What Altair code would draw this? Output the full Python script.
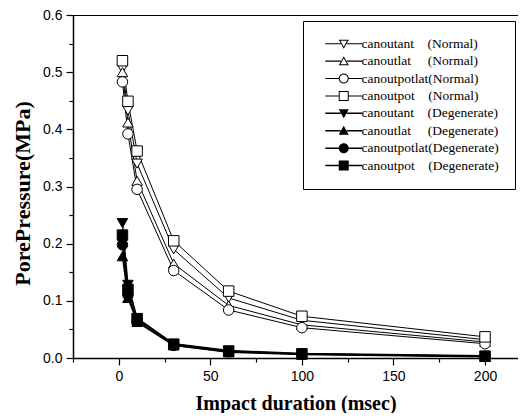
import altair as alt
import pandas as pd

durations = [2, 5, 10, 30, 60, 100, 200]

pad = "\u00a0\u00a0\u00a0\u00a0"
series_labels = [
    "canoutant\u00a0\u00a0\u00a0\u00a0(Normal)" + pad,
    "canoutlat\u00a0\u00a0\u00a0\u00a0\u00a0(Normal)" + pad,
    "canoutpotlat(Normal)" + pad,
    "canoutpot\u00a0\u00a0\u00a0\u00a0(Normal)" + pad,
    "canoutant\u00a0\u00a0\u00a0\u00a0(Degenerate)" + pad,
    "canoutlat\u00a0\u00a0\u00a0\u00a0\u00a0(Degenerate)" + pad,
    "canoutpotlat(Degenerate)" + pad,
    "canoutpot\u00a0\u00a0\u00a0\u00a0(Degenerate)" + pad,
]
series_kind = ["Normal"] * 4 + ["Degenerate"] * 4

normal_ant = [0.506, 0.433, 0.340, 0.190, 0.105, 0.066, 0.032]
normal_lat = [0.500, 0.412, 0.310, 0.165, 0.092, 0.058, 0.028]
normal_potlat = [0.483, 0.392, 0.295, 0.153, 0.084, 0.053, 0.025]
normal_pot = [0.520, 0.449, 0.362, 0.205, 0.117, 0.073, 0.037]
deg_ant = [0.236, 0.128, 0.070, 0.025, 0.013, 0.008, 0.004]
deg_lat = [0.178, 0.105, 0.063, 0.022, 0.010, 0.006, 0.002]
deg_potlat = [0.198, 0.110, 0.065, 0.022, 0.011, 0.007, 0.003]
deg_pot = [0.215, 0.120, 0.068, 0.024, 0.012, 0.007, 0.003]

all_values = [normal_ant, normal_lat, normal_potlat, normal_pot,
              deg_ant, deg_lat, deg_potlat, deg_pot]

point_shapes = ["triangle-down", "triangle-up", "circle", "square"] * 2
fills = ["white"] * 4 + ["black"] * 4


def stubs(e, t):
    return (f"M-3.7,-{t}H-{e}V{t}H-3.7Z"
            f"M{e},-{t}H3.7V{t}H{e}Z")


TD_OUT = "M-1,-0.8L1,-0.8L0,1Z"
TD_IN = "M-0.66,-0.6L0,0.588L0.66,-0.6Z"
TU_OUT = "M0,-1L1,0.8L-1,0.8Z"
TU_IN = "M0,-0.588L-0.66,0.6L0.66,0.6Z"
C_OUT = "M1,0A1,1,0,1,1,-1,0A1,1,0,1,1,1,0Z"
C_IN = "M0.8,0A0.8,0.8,0,1,0,-0.8,0A0.8,0.8,0,1,0,0.8,0Z"
S_OUT = "M-1,-1H1V1H-1Z"
S_IN = "M-0.8,-0.8V0.8H0.8V-0.8Z"

legend_shapes = [
    stubs(0.6, 0.11) + TD_OUT + TD_IN,
    stubs(0.6, 0.11) + TU_OUT + TU_IN,
    stubs(0.95, 0.11) + C_OUT + C_IN,
    stubs(0.95, 0.11) + S_OUT + S_IN,
    stubs(0.6, 0.15) + TD_OUT,
    stubs(0.6, 0.15) + TU_OUT,
    stubs(0.95, 0.15) + C_OUT,
    stubs(0.95, 0.15) + S_OUT,
]

x_ticks = [0, 50, 100, 150, 200]
x_minor = [-25, 25, 75, 125, 175]
y_ticks = [0.0, 0.1, 0.2, 0.3, 0.4, 0.5, 0.6]
y_minor = [0.05, 0.15, 0.25, 0.35, 0.45, 0.55]

rows = []
for lab, kind, vals in zip(series_labels, series_kind, all_values):
    for d, v in zip(durations, vals):
        rows.append({"series": lab, "kind": kind, "duration": d, "pressure": v})
df = pd.DataFrame(rows)

xscale = alt.Scale(domain=[-25, 218], nice=False, zero=False)
yscale = alt.Scale(domain=[0, 0.6], nice=False)

base = alt.Chart(df)

lines = base.mark_line(color="black").encode(
    x=alt.X("duration:Q", scale=xscale,
            axis=alt.Axis(values=x_ticks, title="Impact duration (msec)", orient="bottom",
                          tickSize=7, labelPadding=4, titlePadding=10, titleFontSize=20)),
    y=alt.Y("pressure:Q", scale=yscale,
            axis=alt.Axis(values=y_ticks, format=".1f", title="PorePressure(MPa)", orient="left",
                          tickSize=7, labelPadding=4, titlePadding=8, titleFontSize=22,
                          titleY=178)),
    detail="series:N",
    strokeWidth=alt.StrokeWidth("kind:N", scale=alt.Scale(domain=["Normal", "Degenerate"], range=[1, 1.4]),
                                legend=None),
)

points = base.mark_point(filled=True, size=110, strokeWidth=1, opacity=1).encode(
    x=alt.X("duration:Q", scale=xscale,
            axis=alt.Axis(values=x_minor, labels=False, title=None, orient="bottom",
                          tickSize=4, domain=False)),
    y=alt.Y("pressure:Q", scale=yscale,
            axis=alt.Axis(values=y_minor, labels=False, title=None, orient="left",
                          tickSize=4, domain=False)),
    shape=alt.Shape("series:N", scale=alt.Scale(domain=series_labels, range=point_shapes), legend=None),
    fill=alt.Fill("series:N", scale=alt.Scale(domain=series_labels, range=fills), legend=None),
    stroke=alt.value("black"),
)

leg = alt.Legend(
    title=None, orient="none", legendX=230, legendY=6,
    labelFont="Liberation Serif", labelFontSize=13.5, labelColor="black", labelLimit=400,
    symbolSize=100, symbolStrokeWidth=0, symbolOpacity=1, symbolFillColor="black",
    symbolOffset=18, labelOffset=11, padding=16, rowPadding=2.4,
    strokeColor="black", fillColor="white",
)

legend_layer = base.mark_point(filled=True, color="black", size=1, opacity=0, strokeWidth=0).encode(
    x=alt.X("duration:Q", scale=xscale, axis=None),
    y=alt.Y("pressure:Q", scale=yscale, axis=None),
    shape=alt.Shape("series:N", scale=alt.Scale(domain=series_labels, range=legend_shapes), legend=leg),
)

chart = alt.layer(lines, points, legend_layer).resolve_scale(
    shape="independent"
).resolve_axis(
    x="independent", y="independent"
).properties(
    width=445, height=343,
    autosize=alt.AutoSizeParams(type="none"),
    padding={"left": 65, "top": 7, "right": 0, "bottom": 55},
).configure_view(
    stroke="black", strokeWidth=1
).configure_axis(
    grid=False, domainColor="black", tickColor="black", labelColor="black",
    labelFont="Liberation Sans", labelFontSize=14, domainWidth=1.5, tickWidth=1.2,
    titleFont="Liberation Serif", titleFontWeight="bold", titleColor="black",
)

chart.save("out.html", embed_options={"renderer": "svg", "actions": False})
